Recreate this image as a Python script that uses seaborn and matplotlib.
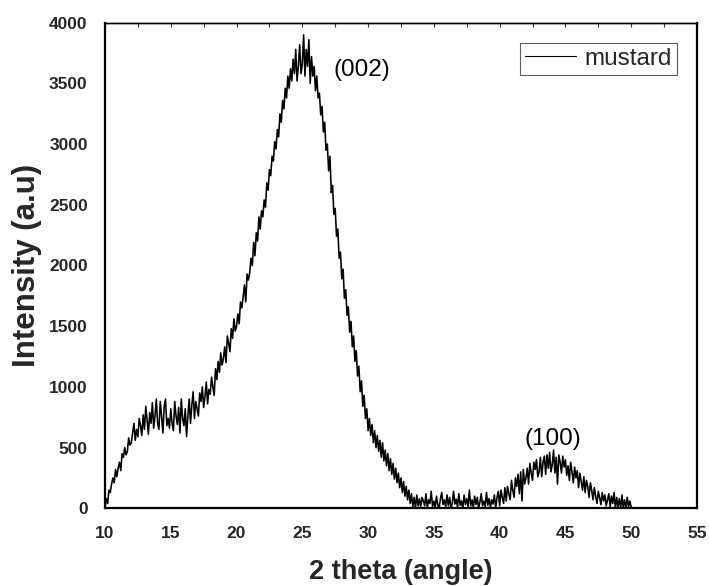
import numpy as np
import pandas as pd
import matplotlib
matplotlib.use("Agg")
import matplotlib.pyplot as plt
import seaborn as sns
from matplotlib.ticker import MultipleLocator

# ---- data, 2theta from 10 to 50 step 0.1 ----
theta_start = 10.0
theta_step = 0.1

i_10 = [0, 80, 40, 150, 130, 200, 250, 210, 320, 260]
i_11 = [330, 380, 310, 450, 420, 500, 440, 470, 580, 520]
i_12 = [540, 620, 700, 560, 650, 590, 740, 680, 600, 770]
i_13 = [650, 840, 720, 610, 790, 700, 870, 660, 760, 900]
i_14 = [700, 650, 880, 760, 620, 840, 900, 680, 740, 660]
i_15 = [820, 700, 640, 880, 760, 690, 830, 620, 900, 740]
i_16 = [680, 820, 590, 760, 900, 700, 850, 960, 740, 880]
i_17 = [820, 760, 950, 880, 1000, 830, 920, 1040, 860, 980]
i_18 = [940, 1080, 1000, 930, 1150, 1060, 1210, 1120, 1280, 1180]
i_19 = [1230, 1330, 1200, 1420, 1360, 1290, 1480, 1400, 1560, 1460]
i_20 = [1500, 1600, 1520, 1700, 1650, 1740, 1840, 1700, 1930, 1880]
i_21 = [1940, 2060, 2000, 2190, 2080, 2270, 2200, 2400, 2300, 2450]
i_22 = [2400, 2540, 2480, 2680, 2620, 2790, 2740, 2900, 2860, 3020]
i_23 = [2960, 3120, 3060, 3250, 3180, 3360, 3290, 3460, 3380, 3560]
i_24 = [3460, 3620, 3520, 3700, 3580, 3780, 3520, 3640, 3820, 3580]
i_25 = [3660, 3900, 3560, 3780, 3640, 3860, 3500, 3720, 3560, 3640]
i_26 = [3440, 3560, 3380, 3420, 3240, 3310, 3100, 3180, 2950, 3000]
i_27 = [2780, 2900, 2600, 2660, 2420, 2470, 2240, 2300, 2060, 2110]
i_28 = [1890, 1970, 1730, 1800, 1590, 1660, 1450, 1540, 1330, 1420]
i_29 = [1210, 1300, 1090, 1170, 960, 1050, 840, 930, 740, 820]
i_30 = [640, 740, 600, 690, 540, 640, 500, 600, 470, 560]
i_31 = [420, 540, 390, 480, 350, 450, 310, 410, 280, 370]
i_32 = [240, 330, 210, 290, 170, 250, 130, 220, 100, 180]
i_33 = [70, 150, 40, 120, 10, 90, 5, 110, 20, 80]
i_34 = [10, 90, 60, 20, 120, 0, 70, 40, 140, 15]
i_35 = [60, 5, 100, 25, 0, 80, 130, 30, 70, 10]
i_36 = [110, 20, 90, 0, 40, 140, 35, 75, 10, 120]
i_37 = [25, 60, 0, 110, 30, 80, 15, 150, 20, 70]
i_38 = [5, 100, 30, 90, 0, 50, 120, 20, 60, 10]
i_39 = [130, 25, 80, 10, 70, 35, 110, 0, 90, 140]
i_40 = [20, 150, 90, 40, 170, 60, 180, 120, 70, 230]
i_41 = [150, 90, 250, 180, 280, 120, 300, 60, 320, 200]
i_42 = [250, 330, 200, 370, 290, 230, 380, 320, 400, 260]
i_43 = [300, 420, 260, 380, 430, 280, 440, 330, 460, 300]
i_44 = [360, 480, 290, 420, 200, 440, 380, 290, 430, 340]
i_45 = [400, 270, 350, 230, 380, 300, 210, 340, 250, 310]
i_46 = [170, 290, 220, 150, 260, 130, 230, 180, 90, 210]
i_47 = [150, 70, 170, 100, 40, 140, 90, 30, 130, 60]
i_48 = [110, 20, 70, 120, 10, 100, 40, 130, 0, 90]
i_49 = [10, 80, 0, 110, 5, 70, 0, 90, 10, 60]
i_50 = [10]

intensity = (i_10 + i_11 + i_12 + i_13 + i_14 + i_15 + i_16 + i_17 + i_18 + i_19
             + i_20 + i_21 + i_22 + i_23 + i_24 + i_25 + i_26 + i_27 + i_28 + i_29
             + i_30 + i_31 + i_32 + i_33 + i_34 + i_35 + i_36 + i_37 + i_38 + i_39
             + i_40 + i_41 + i_42 + i_43 + i_44 + i_45 + i_46 + i_47 + i_48 + i_49
             + i_50)
two_theta = np.round(theta_start + theta_step * np.arange(len(intensity)), 2)

series_label = "mustard"
x_label = "2 theta (angle)"
y_label = "Intensity (a.u)"
peak_labels = ["(002)", "(100)"]
peak_pos = [(29.5, 3610), (44.05, 570)]

df = pd.DataFrame({"two_theta": two_theta, "intensity": intensity})

# ---- styling ----
sns.set_theme(style="white")
plt.rcParams["font.family"] = ["Liberation Sans", "DejaVu Sans"]

fig = plt.figure(figsize=(7.09, 5.86), dpi=100)
ax = fig.add_axes([0.1481, 0.1326, 0.983 - 0.1481, 0.9613 - 0.1326])

sns.lineplot(data=df, x="two_theta", y="intensity", color="black", lw=1.15,
             estimator=None, sort=False, label=series_label, ax=ax)

ax.set_xlim(10, 55)
ax.set_ylim(0, 4000)
ax.xaxis.set_major_locator(MultipleLocator(5))
ax.xaxis.set_minor_locator(MultipleLocator(2.5))
ax.yaxis.set_major_locator(MultipleLocator(500))
ax.yaxis.set_minor_locator(MultipleLocator(250))

for side in ["left", "bottom", "right"]:
    ax.spines[side].set_color("black")
    ax.spines[side].set_linewidth(1.6)
ax.spines["top"].set_color("black")
ax.spines["top"].set_linewidth(1.0)

ax.tick_params(axis="both", which="major", direction="out", length=7.5, width=1.3,
               color="black", labelsize=12.5, pad=5, top=False, right=False)
ax.tick_params(axis="both", which="minor", direction="out", length=3.5, width=1.0,
               color="black", top=False, right=False)
ax.tick_params(axis="y", which="major", pad=5)

# small inward ticks along the top edge
sec = ax.secondary_xaxis("top")
sec.xaxis.set_major_locator(MultipleLocator(2.5))
sec.tick_params(axis="x", which="both", direction="in", length=3, width=0.8,
                labeltop=False, color="#333333")
sec.spines["top"].set_linewidth(1.0)

for lab in ax.get_xticklabels() + ax.get_yticklabels():
    lab.set_fontweight("bold")

ax.set_xlabel(x_label, fontsize=19.5, fontweight="bold")
ax.set_ylabel(y_label, fontsize=22.5, fontweight="bold")
ax.xaxis.set_label_coords(0.5, -0.105)
ax.yaxis.set_label_coords(-0.107, 0.5)

for txt, (px, py) in zip(peak_labels, peak_pos):
    ax.text(px, py, txt, fontsize=17.5, ha="center", va="center", color="black")

leg = ax.legend(loc="upper right", bbox_to_anchor=(0.966, 0.958), borderaxespad=0,
                fontsize=17.5, frameon=True, fancybox=False, handlelength=2.1,
                handletextpad=0.35, borderpad=0.2)
leg.get_frame().set_edgecolor("#333333")
leg.get_frame().set_linewidth(0.8)
for line in leg.get_lines():
    line.set_linewidth(0.8)

fig.savefig("out.png", dpi=100)
